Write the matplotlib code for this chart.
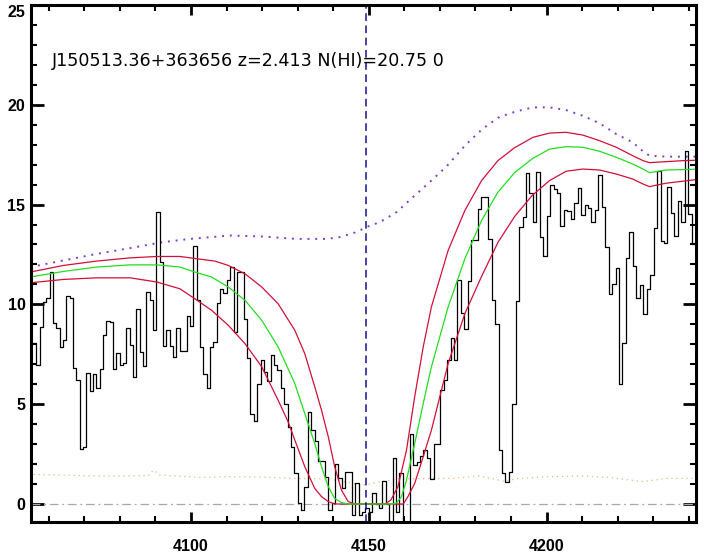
import numpy as np
import matplotlib.pyplot as plt
from matplotlib.ticker import MultipleLocator

# observed flux per SDSS pixel (log-lambda grid, dloglam = 1e-4, starting at 3.6080)
flux = [8.0, 8.05, 6.95, 8.87, 10.1, 10.3, 11.6, 9.07, 8.8, 7.85,
        8.2, 10.4, 10.3, 6.8, 6.2, 2.75, 2.85, 6.57, 5.65, 6.53,
        5.8, 6.77, 8.45, 9.17, 9.1, 6.75, 7.58, 6.98, 7.05, 8.8,
        7.98, 6.35, 9.75, 7.6, 6.9, 10.63, 10.2, 8.7, 14.63, 12.1,
        7.9, 8.7, 7.9, 7.35, 8.8, 7.65, 7.65, 9.42, 8.93, 12.93,
        10.2, 7.87, 6.53, 5.82, 7.87, 8.12, 10.07, 10.78, 10.58, 11.2,
        11.87, 8.6, 11.62, 11.62, 9.28, 7.32, 4.5, 4.15, 6.03, 7.23,
        6.63, 6.15, 7.48, 6.95, 6.7, 5.82, 5.03, 3.87, 2.87, 1.53,
        0.03, -0.3, 0.87, 4.62, 3.7, 3.17, 2.17, 2.17, 1.37, -0.3,
        0.03, 1.98, 1.28, 0.78, 1.62, 1.62, -0.55, 1.03, -0.55, -0.4,
        -0.2, -0.38, 0.55, 0.0, -0.2, 1.17, 0.0, -1.2, 2.28, -0.38,
        1.57, -1.2, -1.2, 3.53, 1.95, 2.08, 2.4, 2.7, 2.3, 1.27,
        3.03, 3.03, 5.7, 6.23, 7.2, 8.33, 7.2, 11.23, 9.57, 8.78,
        11.15, 13.23, 13.23, 14.78, 15.37, 15.37, 13.28, 10.23, 9.03, 2.73,
        1.57, 1.12, 1.6, 5.03, 10.17, 13.9, 14.37, 16.57, 15.6, 14.15,
        16.62, 13.4, 12.4, 14.42, 15.98, 15.78, 15.58, 13.95, 14.73, 14.7,
        14.3, 15.08, 15.83, 14.5, 14.98, 14.83, 14.12, 14.73, 16.48, 14.87,
        12.87, 10.5, 11.0, 11.83, 6.03, 8.07, 12.33, 13.65, 11.92, 10.33,
        10.95, 9.5, 10.78, 11.45, 13.83, 16.67, 13.17, 13.07, 15.9, 14.58,
        13.45, 15.17, 14.12, 17.7, 14.53, 13.0]
wave = 10 ** (3.6080 + 1e-4 * np.arange(len(flux)))

# continuum (dotted)
cont_w = [4054.8, 4064.1, 4073.5, 4082.9, 4092.2, 4099.7, 4111.0, 4120.3, 4129.7,
          4138.1, 4141.9, 4146.5, 4149.3, 4153.1, 4157.8, 4162.4, 4167.1, 4171.8,
          4177.0, 4182.0, 4186.8, 4191.5, 4196.2, 4200.8, 4205.5, 4210.2, 4214.9,
          4219.6, 4224.2, 4227.1, 4228.9, 4233.6, 4238.3, 4242.0]
cont_f = [11.87, 12.2, 12.53, 12.82, 13.12, 13.28, 13.45, 13.4, 13.28,
          13.28, 13.37, 13.62, 13.87, 14.12, 14.62, 15.37, 16.12, 16.9,
          17.95, 18.8, 19.4, 19.67, 19.87, 19.87, 19.73, 19.45, 19.07,
          18.53, 18.12, 17.67, 17.45, 17.4, 17.4, 17.4]

# best-fit DLA model
fit_w = [4054.8, 4064.1, 4073.5, 4082.9, 4090.4, 4096.9, 4101.1, 4105.8, 4110.5,
         4115.2, 4119.9, 4124.5, 4129.2, 4132.0, 4134.8, 4136.7, 4138.6, 4140.4,
         4142.3, 4144.2, 4156.5, 4157.8, 4159.2, 4160.6, 4162.9, 4165.3, 4167.6,
         4172.3, 4177.0, 4181.7, 4186.3, 4191.0, 4196.0, 4200.8, 4205.5, 4210.2,
         4214.9, 4219.6, 4224.2, 4227.1, 4228.9, 4233.6, 4238.3, 4242.0]
fit_f = [11.37, 11.65, 11.87, 11.98, 11.98, 11.87, 11.62, 11.37, 10.87,
         10.2, 9.2, 7.87, 6.03, 4.53, 3.03, 1.87, 0.87, 0.28,
         0.07, 0.0, 0.0, 0.05, 0.37, 1.2, 3.03, 5.03, 6.87,
         9.87, 12.28, 14.2, 15.62, 16.6, 17.3, 17.78, 17.9, 17.87,
         17.67, 17.37, 17.03, 16.78, 16.6, 16.73, 16.75, 16.77]

# upper / lower model bounds
hi_w = [4054.8, 4064.1, 4073.5, 4082.9, 4090.4, 4096.9, 4101.1, 4106.7, 4110.5,
        4115.2, 4119.9, 4124.5, 4129.2, 4132.0, 4134.8, 4136.7, 4138.6, 4140.4,
        4142.3, 4144.2, 4146.1, 4154.5, 4156.2, 4158.2, 4160.6, 4162.9, 4165.3,
        4167.6, 4172.3, 4177.0, 4181.7, 4186.3, 4191.0, 4196.2, 4200.8, 4205.5,
        4210.2, 4214.9, 4219.6, 4224.2, 4227.1, 4228.9, 4233.6, 4238.3, 4242.0]
hi_f = [11.62, 11.95, 12.17, 12.33, 12.4, 12.4, 12.3, 12.17, 11.95,
        11.53, 10.87, 10.03, 8.7, 7.53, 5.87, 4.7, 3.37, 1.87,
        0.7, 0.12, 0.0, 0.0, 0.2, 0.87, 2.7, 5.37, 7.87,
        9.87, 12.7, 14.7, 16.2, 17.2, 17.85, 18.37, 18.58, 18.62,
        18.48, 18.2, 17.87, 17.45, 17.2, 17.1, 17.15, 17.2, 17.22]
lo_w = [4054.8, 4064.1, 4073.5, 4082.9, 4090.4, 4096.9, 4101.1, 4105.8, 4110.5,
        4115.2, 4119.9, 4124.5, 4127.3, 4129.2, 4132.0, 4134.8, 4136.7, 4138.6,
        4140.4, 4159.7, 4161.0, 4162.9, 4165.3, 4167.6, 4172.3, 4177.0, 4181.7,
        4186.3, 4191.0, 4195.9, 4200.8, 4205.5, 4210.2, 4214.9, 4219.6, 4224.2,
        4227.1, 4228.9, 4233.6, 4238.3, 4242.0]
lo_f = [11.08, 11.25, 11.33, 11.33, 11.12, 10.78, 10.28, 9.7, 8.95,
        8.03, 6.87, 5.2, 4.12, 3.2, 1.87, 0.78, 0.37, 0.12,
        0.0, 0.0, 0.37, 1.03, 2.37, 3.7, 7.03, 9.53, 11.4,
        13.1, 14.4, 15.45, 16.2, 16.67, 16.78, 16.73, 16.53, 16.28,
        16.03, 15.9, 16.07, 16.17, 16.25]

# flux error (dotted)
err_w = [4055.7, 4074.4, 4088.0, 4089.4, 4091.3, 4102.5, 4111.0, 4120.3, 4129.7,
         4139.0, 4148.4, 4157.8, 4167.1, 4172.8, 4181.2, 4188.6, 4191.5, 4200.8,
         4210.2, 4217.7, 4227.1, 4233.6, 4241.1]
err_f = [1.48, 1.4, 1.42, 1.7, 1.45, 1.33, 1.37, 1.35, 1.28,
         1.25, 0.95, 1.25, 1.28, 1.28, 1.4, 1.12, 1.28, 1.37,
         1.4, 1.33, 1.12, 1.28, 1.28]

lya_obs = 4149.1
label = "J150513.36+363656 z=2.413 N(HI)=20.75 0"

fig = plt.figure(figsize=(7.04, 5.56), dpi=100)
ax = fig.add_axes([0.044, 0.0612, 0.9446, 0.9299])

ax.plot([4050, 4250], [0, 0], color='#a8a8a8', lw=0.9, ls=(0, (7, 3, 1.5, 3)))
ax.plot(err_w, err_f, color='#e8b878', lw=0.9, ls=(0, (1, 3)))
ax.plot(cont_w, cont_f, color='#7b3fd0', lw=1.4, ls=(0, (1, 3)))
ax.step(wave, flux, where='mid', color='k', lw=0.9)
ax.plot(hi_w, hi_f, color='#d0103a', lw=0.9)
ax.plot(lo_w, lo_f, color='#d0103a', lw=0.9)
ax.plot(fit_w, fit_f, color='#22dd22', lw=0.9)
ax.axvline(lya_obs, color='#14148c', lw=1.1, ls=(0, (5, 3)))

ax.text(4061.0, 22.2, label, fontsize=12.6, va='center', ha='left',
        family='DejaVu Sans')

ax.set_xlim(4055, 4242)
ax.set_ylim(-0.9, 25)
ax.xaxis.set_major_locator(MultipleLocator(50))
ax.xaxis.set_minor_locator(MultipleLocator(10))
ax.yaxis.set_major_locator(MultipleLocator(5))
ax.yaxis.set_minor_locator(MultipleLocator(1))

for s in ax.spines.values():
    s.set_linewidth(2.2)
ax.tick_params(which='both', direction='in', top=True, right=True)
ax.tick_params(axis='x', which='major', length=7.5, width=2.0, pad=12)
ax.tick_params(axis='y', which='major', length=9.5, width=2.0, pad=4)
ax.tick_params(which='minor', length=4.5, width=1.5)
for lab in ax.get_xticklabels() + ax.get_yticklabels():
    lab.set_family('Liberation Sans')
    lab.set_fontweight('bold')
    lab.set_fontsize(11.5)
# top label sits just below the frame, as in the original
for t in ax.yaxis.get_major_ticks():
    if abs(t.get_loc() - 25) < 1e-6:
        t.label1.set_va('top')

fig.savefig('out.png', dpi=100)
